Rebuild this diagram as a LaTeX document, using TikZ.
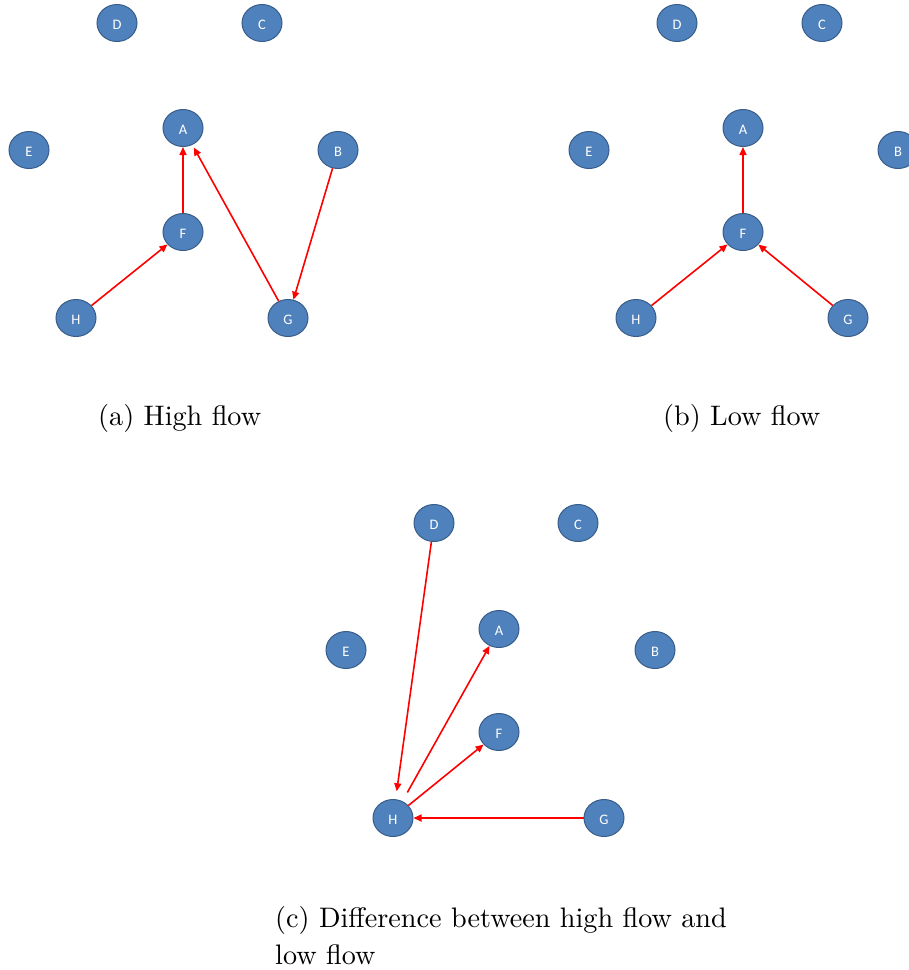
\documentclass[tikz,border=0pt]{standalone}
\usepackage{fontspec}
\newfontfamily\nodefont{Carlito}
\newfontfamily\capfont{lmroman10-regular}[Extension=.otf]
\usetikzlibrary{shapes.geometric,arrows.meta}
\definecolor{nodefill}{HTML}{4F81BD}
\definecolor{nodeline}{HTML}{385D8A}
\definecolor{edgered}{HTML}{FF0000}
\begin{document}
\begin{tikzpicture}[x=1pt,y=-1pt,
  vertex/.style={ellipse, draw=nodeline, fill=nodefill, line width=1pt,
    minimum width=40pt, minimum height=37pt, inner sep=0pt, text=white,
    text height=13pt, text depth=0pt,
    font=\nodefont\fontsize{14.5}{14.5}\selectfont},
  flow/.style={draw=edgered, line width=1.6pt, -{Triangle[length=8pt,width=7pt]}},
  captext/.style={font=\capfont\fontsize{28.2}{36}\selectfont, inner sep=0pt, anchor=base west}]
\useasboundingbox (0,0) rectangle (909,970);

% Panel (a)
\node[vertex] (aD) at (117,23) {D};
\node[vertex] (aC) at (262,23) {C};
\node[vertex] (aA) at (183,128) {A};
\node[vertex] (aE) at (29,150) {E};
\node[vertex] (aB) at (338,150) {B};
\node[vertex] (aF) at (183,232) {F};
\node[vertex] (aH) at (76,318) {H};
\node[vertex] (aG) at (288,318) {G};
\draw[flow] (aF) -- (aA);
\draw[flow] (aH) -- (aF);
\draw[flow, shorten >=3pt] (aG) -- (aA);
\draw[flow] (aB) -- (aG);
\node[captext] (capa) at (98,425) {(a) High flow};

% Panel (b)
\node[vertex] (bD) at (677,23) {D};
\node[vertex] (bC) at (822,23) {C};
\node[vertex] (bA) at (743,128) {A};
\node[vertex] (bE) at (589,150) {E};
\node[vertex] (bB) at (898,150) {B};
\node[vertex] (bF) at (743,232) {F};
\node[vertex] (bH) at (636,318) {H};
\node[vertex] (bG) at (848,318) {G};
\draw[flow] (bF) -- (bA);
\draw[flow] (bH) -- (bF);
\draw[flow] (bG) -- (bF);
\node[captext] (capb) at (663,425) {(b) Low flow};

% Panel (c)
\node[vertex] (cD) at (434,523) {D};
\node[vertex] (cC) at (578,523) {C};
\node[vertex] (cA) at (499,629) {A};
\node[vertex] (cE) at (346,650) {E};
\node[vertex] (cB) at (655,650) {B};
\node[vertex] (cF) at (499,732) {F};
\node[vertex] (cH) at (393,818) {H};
\node[vertex] (cG) at (604,818) {G};
\draw[flow, shorten >=8pt] (cD) -- (cH);
\draw[flow, shorten <=10pt] (cH) -- (cA);
\draw[flow] (cH) -- (cF);
\draw[flow] (cG) -- (cH);
\node[captext] (capc1) at (275,927) {(c) Difference between high flow and};
\node[captext] (capc2) at (275,964) {low flow};
\end{tikzpicture}
\end{document}
